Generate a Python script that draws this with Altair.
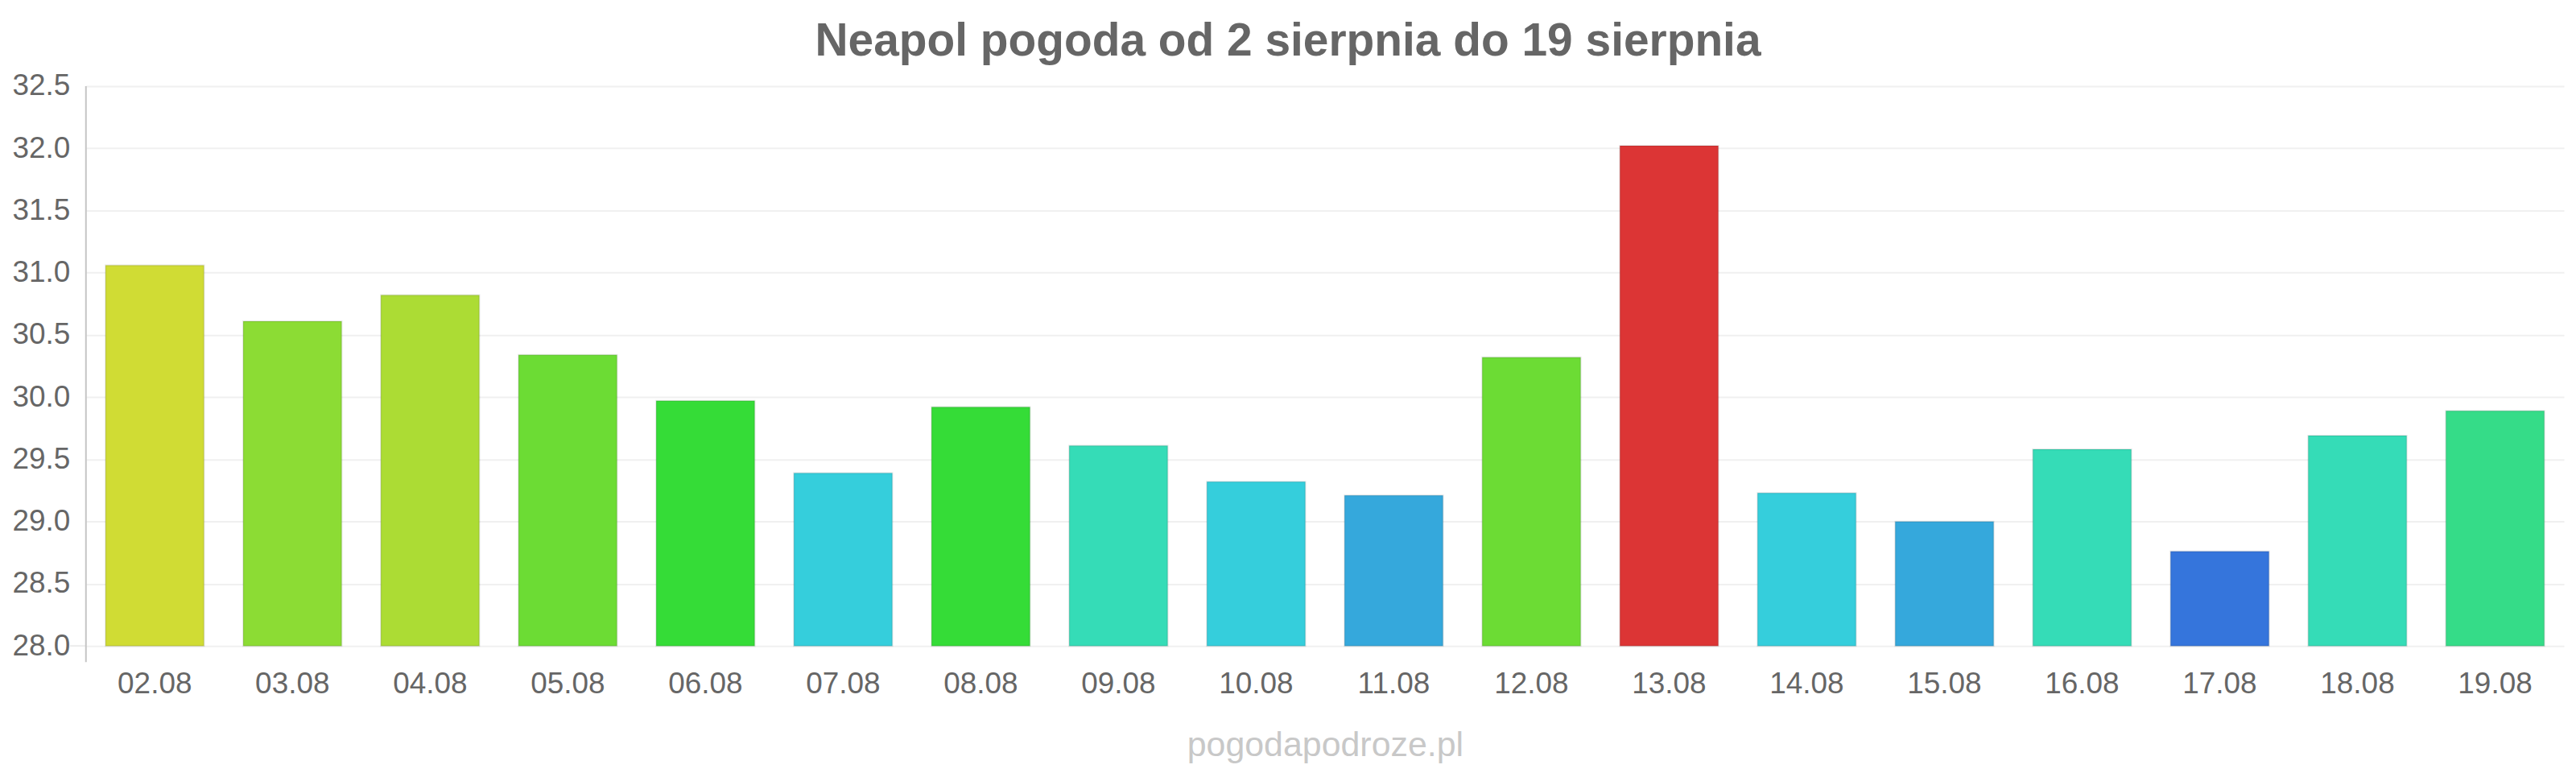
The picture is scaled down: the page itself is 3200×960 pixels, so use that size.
import altair as alt
import pandas as pd

days = ["02.08", "03.08", "04.08", "05.08", "06.08", "07.08", "08.08", "09.08", "10.08",
        "11.08", "12.08", "13.08", "14.08", "15.08", "16.08", "17.08", "18.08", "19.08"]
temps = [31.06, 30.61, 30.82, 30.34, 29.97, 29.39, 29.92, 29.61, 29.32,
         29.21, 30.32, 32.02, 29.23, 29.00, 29.58, 28.76, 29.69, 29.89]
colors = ["#d0dc34", "#8cdc34", "#acdc34", "#6cdc34", "#35dc37", "#35cedc", "#35dc37", "#35dcb7", "#35cedc",
          "#35a8dc", "#6cdc34", "#dc3535", "#35cedc", "#35a8dc", "#35dcb7", "#3575dc", "#35dcb7", "#35dc88"]
y_ticks = [28.0, 28.5, 29.0, 29.5, 30.0, 30.5, 31.0, 31.5, 32.0, 32.5]
title_text = "Neapol pogoda od 2 sierpnia do 19 sierpnia"
watermark = "pogodapodroze.pl"

df = pd.DataFrame({"day": days, "temp": temps, "color": colors})

W, H = 3086, 697
FONT = "Liberation Sans"

xscale = alt.Scale(paddingInner=0.285, paddingOuter=0.1425)
yscale = alt.Scale(domain=[28, 32.5], nice=False, zero=False)

x_axis = alt.Axis(
    title=watermark, labelAngle=0, labelFont=FONT, labelFontSize=37, labelColor="#666666",
    labelPadding=29, ticks=False, tickSize=0, domain=False, grid=False,
    titleFont=FONT, titleFontSize=43, titleFontWeight="normal", titleColor="#c8c8c8",
    titleBaseline="alphabetic", titleY=137,
)
y_axis = alt.Axis(
    title=None, values=y_ticks, format=".1f", labelFont=FONT, labelFontSize=37,
    labelColor="#666666", labelPadding=20, ticks=False, tickSize=0, domain=False,
    grid=True, gridColor="#f0f0f0", gridWidth=2,
)

enc_x = alt.X("day:N", sort=days, scale=xscale, axis=x_axis)
enc_y = alt.Y("temp:Q", scale=yscale, axis=y_axis)

bars = alt.Chart(df).mark_bar().encode(
    x=enc_x, y=enc_y, y2=alt.datum(28),
    color=alt.Color("color:N", scale=None),
)

borders = alt.Chart(df).mark_bar(filled=False, stroke="#000000", strokeOpacity=0.1, strokeWidth=2).encode(
    x=enc_x, y=enc_y, y2=alt.datum(28),
)

one = pd.DataFrame({"k": [0]})
axis_line = alt.Chart(one).mark_rule(color="#c4c4c4", strokeWidth=2).encode(
    x=alt.value(0), y=alt.value(0), y2=alt.value(H + 20)
)
base_tick = alt.Chart(one).mark_rule(color="#ececec", strokeWidth=2).encode(
    x=alt.value(-20), x2=alt.value(0), y=alt.value(H)
)

chart = alt.layer(bars, borders, base_tick, axis_line).properties(
    width=W, height=H,
    title=alt.TitleParams(title_text, font=FONT, fontSize=57, fontWeight="bold", color="#666666",
                          anchor="middle", frame="bounds", baseline="alphabetic", offset=-38),
    padding={"left": 99, "top": 98, "right": 7, "bottom": 149},
    autosize="none",
    background="white",
).configure_view(stroke=None)

chart.save("out.html", embed_options={"renderer": "svg", "actions": False})
